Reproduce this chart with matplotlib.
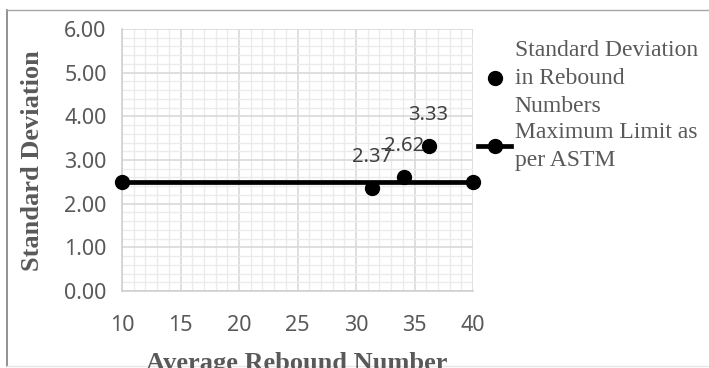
import matplotlib
matplotlib.use("Agg")
import matplotlib.pyplot as plt
from matplotlib.lines import Line2D
from matplotlib.ticker import MultipleLocator, FormatStrFormatter

# Rebound hammer results
avg_rebound = [31.4, 34.1, 36.2]
std_dev = [2.37, 2.62, 3.33]

# ASTM maximum permitted standard deviation
limit_x = [10, 40]
limit_y = [2.5, 2.5]

series_labels = ["Standard Deviation\nin Rebound\nNumbers", "Maximum Limit as\nper ASTM"]
x_ticks = [10, 15, 20, 25, 30, 35, 40]
y_ticks = [0, 1, 2, 3, 4, 5, 6]

W, H = 709, 368
fig = plt.figure(figsize=(W / 100, H / 100), dpi=100)
ax = fig.add_axes([122 / W, 1 - 291 / H, 351 / W, 262 / H])

tick_font = "Noto Sans"
serif = "Liberation Serif"
grey = "#595959"

ax.set_xlim(10, 40)
ax.set_ylim(0, 6)
ax.xaxis.set_major_locator(MultipleLocator(5))
ax.xaxis.set_minor_locator(MultipleLocator(1))
ax.yaxis.set_major_locator(MultipleLocator(1))
ax.yaxis.set_minor_locator(MultipleLocator(0.2))
ax.yaxis.set_major_formatter(FormatStrFormatter("%.2f"))
ax.set_xticks(x_ticks)
ax.set_yticks(y_ticks)

ax.grid(which="minor", color="#ebebeb", linewidth=1.0, zorder=0)
ax.grid(which="major", color="#d9d9d9", linewidth=1.2, zorder=0)
ax.set_axisbelow(True)
for side in ["top", "right"]:
    ax.spines[side].set_visible(False)
for side in ["left", "bottom"]:
    ax.spines[side].set_color("#d0d0d0")
    ax.spines[side].set_linewidth(1.2)
ax.tick_params(which="both", length=0)
ax.tick_params(axis="x", pad=17)
ax.tick_params(axis="y", pad=11)
for lab in ax.get_xticklabels() + ax.get_yticklabels():
    lab.set_fontfamily(tick_font)
    lab.set_fontsize(15.5)
    lab.set_color(grey)

limit_line, = ax.plot(limit_x, limit_y, color="black", linewidth=3.4,
                      marker="o", markersize=10, clip_on=False, zorder=3)
pts, = ax.plot(avg_rebound, std_dev, linestyle="none", color="black",
               marker="o", markersize=10, clip_on=False, zorder=4)

for x, y in zip(avg_rebound, std_dev):
    ax.annotate(f"{y:.2f}", (x, y), xytext=(0, 22), textcoords="offset points",
                ha="center", va="center", fontsize=14.5, family=tick_font,
                color="#404040", zorder=5)

fig.text(33 / W, 1 - 161 / H, "Standard Deviation", rotation=90,
         ha="center", va="center", fontsize=19, fontweight="bold",
         family=serif, color=grey)
fig.text(297 / W, 1 - 370 / H, "Average Rebound Number", ha="center",
         va="baseline", fontsize=19, fontweight="bold", family=serif,
         color=grey)

h1 = Line2D([], [], linestyle="none", marker="o", color="black", markersize=10)
h2 = Line2D([], [], color="black", linewidth=3.4, marker="o", markersize=10)
leg = fig.legend([h1, h2], series_labels, loc="upper left",
                 bbox_to_anchor=(478 / W, 1 - 40 / H), frameon=False,
                 prop={"family": serif, "size": 17}, labelcolor=grey,
                 handlelength=1.4, handletextpad=0.15, labelspacing=0.2,
                 borderaxespad=0, borderpad=0)
for t in leg.get_texts():
    t.set_linespacing(1.45)

# Chart-area border
fig.add_artist(Line2D([7 / W, 7 / W], [1 - 10 / H, 1 - 366 / H],
                      transform=fig.transFigure, color="#7f7f7f", linewidth=1.2))
fig.add_artist(Line2D([7 / W, 1.0], [1 - 10 / H, 1 - 10 / H],
                      transform=fig.transFigure, color="#a6a6a6", linewidth=1.0))
fig.add_artist(Line2D([7 / W, 1.0], [1 - 366 / H, 1 - 366 / H],
                      transform=fig.transFigure, color="#e6e6e6", linewidth=1.0))

fig.savefig("out.png", dpi=100)
